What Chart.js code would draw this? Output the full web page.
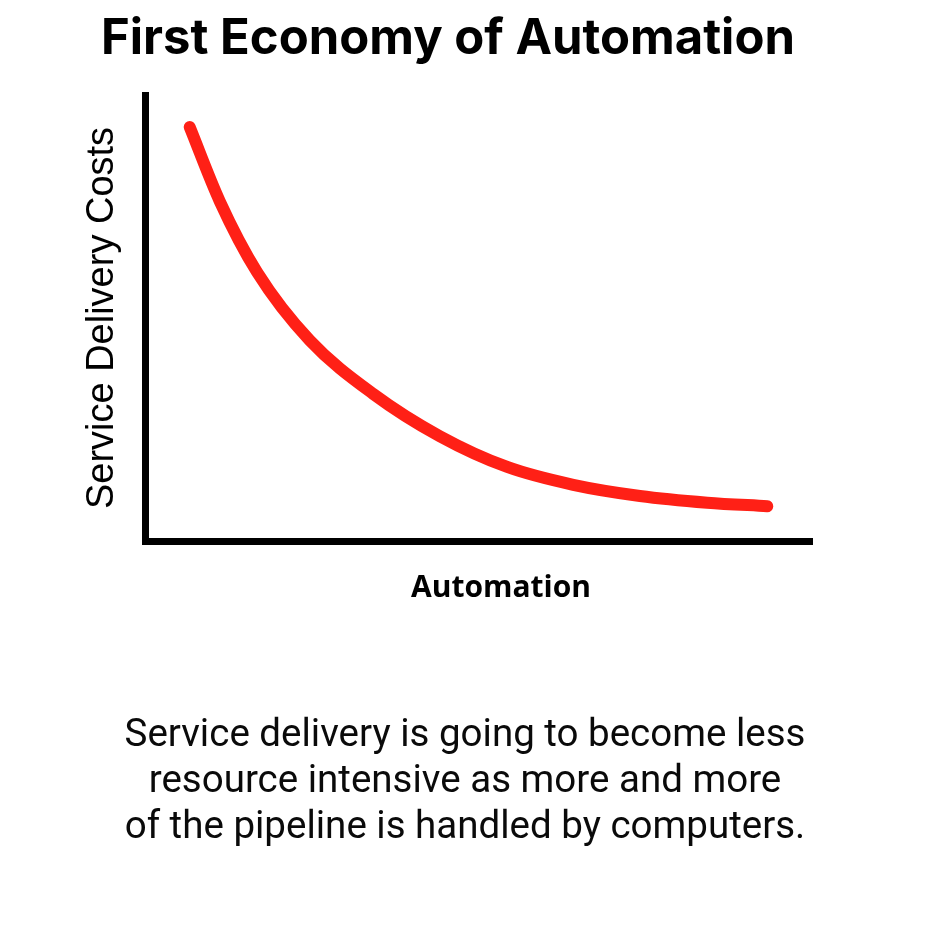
<!DOCTYPE html>
<html>
<head>
<meta charset="utf-8">
<script src="https://cdn.jsdelivr.net/npm/chart.js@4/dist/chart.umd.min.js"></script>
<style>
  html, body { margin: 0; padding: 0; background: #fff; }
  #wrap { position: relative; width: 940px; height: 938px; }
  #c { position: absolute; left: 0; top: 0; }
  #title {
    position: absolute; left: 0; top: 8px; width: 896px; text-align: center;
    font-family: Inter, sans-serif; font-weight: bold; font-size: 49px; line-height: 58px; color: #000;
  }
  #xlabel {
    position: absolute; left: 0; top: 567px; width: 1002px; text-align: center;
    font-family: "Open Sans", sans-serif; font-weight: bold; font-size: 30px; line-height: 38px; color: #000;
  }
  #caption {
    position: absolute; left: 0; top: 710px; width: 930px;
    text-align: center; font-family: Roboto, "Noto Sans", sans-serif;
    font-size: 38.5px; line-height: 46px; color: #0a0a0a;
  }
</style>
</head>
<body>
<div id="wrap">
  <canvas id="c" width="940" height="938"></canvas>
  <div id="title">First Economy of Automation</div>
  <div id="xlabel">Automation</div>
  <div id="caption">Service delivery is going to become less<br>resource intensive as more and more<br>of the pipeline is handled by computers.</div>
</div>
<script>
const yAxisTitle = "Service Delivery Costs";
const automation = [6.7, 11.2, 16.8, 24.7, 34.2, 44.2, 54.3, 64.2, 74.2, 84.3, 93.3];
const costs      = [92.8, 76.2, 60.3, 45.0, 33.0, 23.5, 16.6, 12.6, 10.1, 8.6, 7.8];

const points = automation.map((x, i) => ({ x: x, y: costs[i] }));

new Chart(document.getElementById('c'), {
  type: 'scatter',
  data: {
    datasets: [{
      data: points,
      showLine: true,
      borderColor: 'rgb(255,32,22)',
      borderWidth: 12,
      borderCapStyle: 'round',
      borderJoinStyle: 'round',
      pointRadius: 0,
      cubicInterpolationMode: 'monotone',
      fill: false
    }]
  },
  options: {
    responsive: false,
    animation: false,
    layout: { padding: { left: 0, right: 128, top: 95, bottom: 0 } },
    plugins: {
      legend: { display: false },
      tooltip: { enabled: false },
      title: { display: false }
    },
    scales: {
      x: {
        type: 'linear', min: 0, max: 100,
        grid: { display: false },
        border: { display: true, color: '#000', width: 7 },
        ticks: { display: false },
        title: { display: false },
        afterFit: s => { s.height = 397; }
      },
      y: {
        type: 'linear', min: 0, max: 100,
        grid: { display: false },
        border: { display: true, color: '#000', width: 7 },
        ticks: { display: false },
        title: {
          display: true, text: yAxisTitle, color: '#000',
          font: { family: 'Liberation Sans', weight: 'normal', size: 38, lineHeight: 1.2 },
          padding: { top: 80, bottom: 0 }
        },
        afterFit: s => { s.width = 145; }
      }
    }
  }
});
</script>
</body>
</html>
